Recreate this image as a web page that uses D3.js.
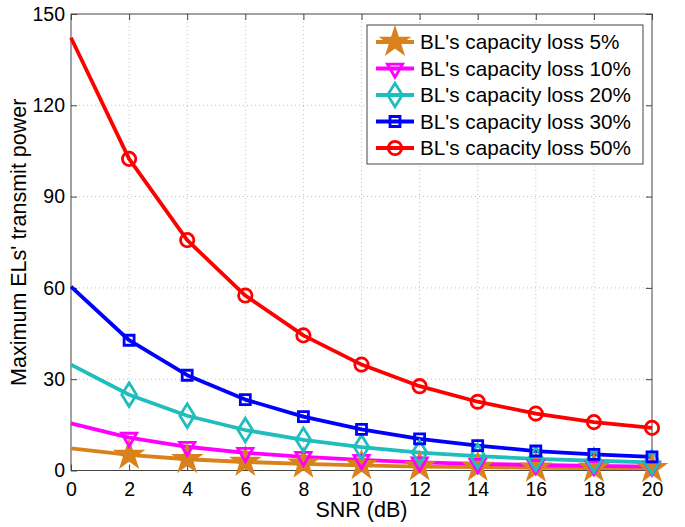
<!DOCTYPE html>
<html><head><meta charset="utf-8">
<script src="https://cdn.jsdelivr.net/npm/d3@7"></script>
<style>body{margin:0;background:#fff}svg{display:block}text{font-family:"Liberation Sans",Arial,sans-serif;fill:#000}</style>
</head><body>
<script>
const snr = [0,2,4,6,8,10,12,14,16,18,20];
const loss5  = [7.3,5.1,3.7,2.8,2.2,1.7,1.3,1.1,0.9,0.8,0.7];
const loss10 = [15.5,10.8,7.8,5.8,4.5,3.5,2.7,2.2,1.8,1.5,1.3];
const loss20 = [34.8,24.9,18.0,13.3,10.1,7.7,5.9,4.7,3.8,3.2,2.7];
const loss30 = [60.4,42.8,31.3,23.3,17.7,13.5,10.4,8.2,6.4,5.3,4.5];
const loss50 = [142.2,102.4,75.7,57.5,44.4,34.8,27.7,22.6,18.7,15.9,14.0];
const seriesNames = ["BL's capacity loss 5%","BL's capacity loss 10%","BL's capacity loss 20%","BL's capacity loss 30%","BL's capacity loss 50%"];
const xTicks = [0,2,4,6,8,10,12,14,16,18,20];
const yTicks = [0,30,60,90,120,150];

const W=685,H=527;
const L=71,R=652,T=14,B=470.5;
const svg=d3.select("body").append("svg").attr("width",W).attr("height",H);
const x=d3.scaleLinear().domain([0,20]).range([L,R]);
const y=d3.scaleLinear().domain([0,150]).range([B,T]);

// grid
const g=svg.append("g");
g.selectAll(".gx").data(xTicks.slice(1,-1)).join("line")
 .attr("x1",d=>x(d)).attr("x2",d=>x(d)).attr("y1",T).attr("y2",B)
 .attr("stroke","#c0c0c0").attr("stroke-width",1).attr("stroke-dasharray","1,3");
g.selectAll(".gy").data(yTicks.slice(1,-1)).join("line")
 .attr("y1",d=>y(d)).attr("y2",d=>y(d)).attr("x1",L).attr("x2",R)
 .attr("stroke","#c0c0c0").attr("stroke-width",1).attr("stroke-dasharray","1,3");

// axes with inward ticks
const fs="19.5px";
const ax=svg.append("g").attr("transform",`translate(0,${B})`).call(d3.axisBottom(x).tickValues(xTicks).tickSizeInner(-6).tickSizeOuter(0).tickPadding(25));
const axT=svg.append("g").attr("transform",`translate(0,${T})`).call(d3.axisTop(x).tickValues(xTicks).tickSizeInner(-6).tickSizeOuter(0).tickFormat(""));
const ay=svg.append("g").attr("transform",`translate(${L},0)`).call(d3.axisLeft(y).tickValues(yTicks).tickSizeInner(-6).tickSizeOuter(0).tickPadding(6));
const ayR=svg.append("g").attr("transform",`translate(${R},0)`).call(d3.axisRight(y).tickValues(yTicks).tickSizeInner(-6).tickSizeOuter(0).tickFormat(""));
[ax,axT,ay,ayR].forEach(a=>{a.select(".domain").remove();a.selectAll("line").attr("stroke","#444");a.selectAll("text").style("font-size",fs).attr("font-family",null);});
ax.selectAll("text").attr("dy","0");
svg.append("rect").attr("x",L).attr("y",T).attr("width",R-L).attr("height",B-T).attr("fill","none").attr("stroke","#444").attr("stroke-width",1);

// axis labels
svg.append("text").attr("x",(L+R)/2).attr("y",517).attr("text-anchor","middle").style("font-size","21.5px").text("SNR (dB)");
svg.append("text").attr("transform",`translate(26,${(T+B)/2}) rotate(-90)`).attr("text-anchor","middle").style("font-size","21.5px").text("Maximum ELs' transmit power");

// series
const colors=["#D9821C","#FF00FF","#1FBDBD","#0000FF","#FF0000"];
const data=[loss5,loss10,loss20,loss30,loss50];
const diamond={draw(ctx,size){const h=Math.sqrt(size)*0.75,w=h*0.62;ctx.moveTo(0,-h);ctx.lineTo(w,0);ctx.lineTo(0,h);ctx.lineTo(-w,0);ctx.closePath();}};
const markers=[
 {type:d3.symbolStar,size:180,fill:true,rot:0},
 {type:d3.symbolTriangle,size:100,fill:false,rot:180},
 {type:diamond,size:250,fill:false,rot:0},
 {type:d3.symbolSquare,size:100,fill:false,rot:0},
 {type:d3.symbolCircle,size:140,fill:false,rot:0}
];
const line=d3.line().x((d,i)=>x(snr[i])).y(d=>y(d)).curve(d3.curveLinear);
const plot=svg.append("g");
data.forEach((vals,k)=>{
  plot.append("path").datum(vals).attr("d",line).attr("fill","none").attr("stroke",colors[k]).attr("stroke-width",3.8).attr("stroke-linejoin","round");
});
data.forEach((vals,k)=>{
  const m=markers[k];
  const pts=vals.map((v,i)=>({sx:snr[i],v})).filter(p=>p.sx>0);
  plot.selectAll(null).data(pts).join("path")
   .attr("d",d3.symbol(m.type,m.size)())
   .attr("transform",p=>`translate(${x(p.sx)},${y(p.v)}) rotate(${m.rot})`)
   .attr("fill",m.fill?colors[k]:"none").attr("stroke",colors[k]).attr("stroke-width",2.8);
});

// legend
const lg=svg.append("g");
lg.append("rect").attr("x",367).attr("y",25).attr("width",276).attr("height",139).attr("fill","#fff").attr("stroke","#444").attr("stroke-width",1);
seriesNames.forEach((name,k)=>{
  const yy=42+k*26.5;
  const m=markers[k];
  lg.append("line").attr("x1",376).attr("x2",414).attr("y1",yy).attr("y2",yy).attr("stroke",colors[k]).attr("stroke-width",3.8);
  lg.append("path").attr("d",d3.symbol(m.type,m.size)()).attr("transform",`translate(395,${yy}) rotate(${m.rot})`)
   .attr("fill",m.fill?colors[k]:"none").attr("stroke",colors[k]).attr("stroke-width",2.8);
  lg.append("text").attr("x",420).attr("y",yy).attr("dy","0.35em").style("font-size","20.7px").text(name);
});
</script>
</body></html>
